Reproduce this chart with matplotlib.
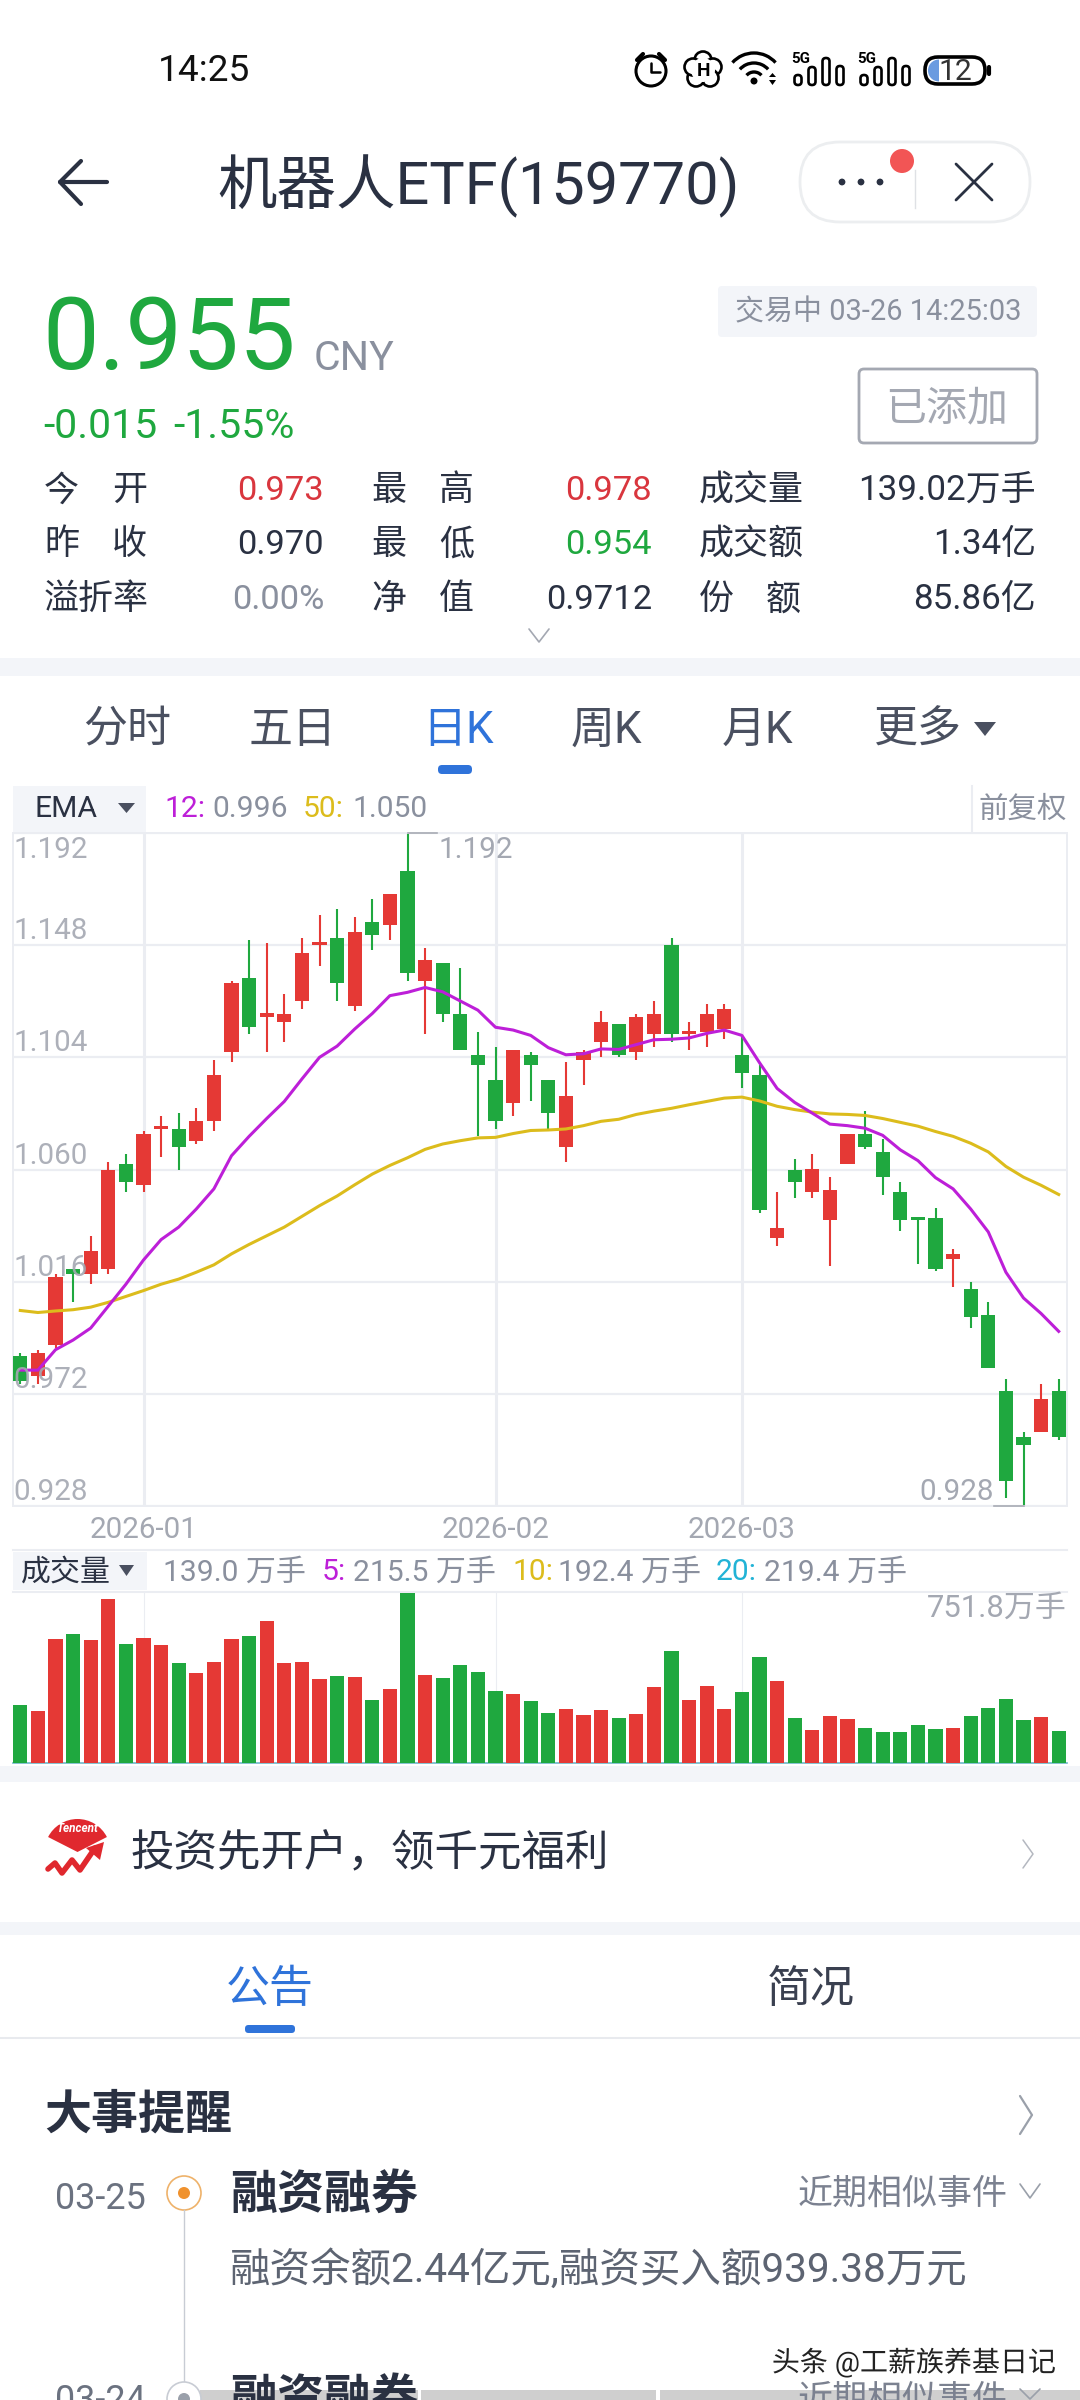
"""Stock app screenshot: robot ETF daily K chart with volume panel."""
import matplotlib
matplotlib.use('Agg')
import matplotlib.pyplot as plt
import matplotlib.patheffects as pe
from matplotlib.patches import Arc, Circle, FancyBboxPatch, Polygon, Rectangle, Wedge

plt.rcParams['font.family'] = ['Roboto', 'Noto Sans CJK SC', 'DejaVu Sans']

# ----------------------------------------------------------------
# DATA
# ----------------------------------------------------------------
opens = [0.987, 0.979, 0.991, 1.021, 1.019, 1.021, 1.062, 1.054, 1.076, 1.076,
         1.071, 1.079, 1.106, 1.135, 1.120, 1.118, 1.126, 1.148, 1.151, 1.124,
         1.157, 1.156, 1.177, 1.134, 1.141, 1.121, 1.105, 1.095, 1.086, 1.105,
         1.095, 1.069, 1.103, 1.110, 1.117, 1.106, 1.113, 1.148, 1.113, 1.114,
         1.115, 1.105, 1.097, 1.033, 1.060, 1.051, 1.040, 1.062, 1.074, 1.067,
         1.051, 1.041, 1.041, 1.025, 1.013, 1.003, 0.973, 0.955, 0.957, 0.973]
highs = [0.988, 0.989, 1.019, 1.021, 1.034, 1.063, 1.066, 1.075, 1.081, 1.082,
         1.084, 1.103, 1.134, 1.150, 1.149, 1.129, 1.151, 1.160, 1.162, 1.159,
         1.166, 1.168, 1.192, 1.147, 1.141, 1.139, 1.114, 1.108, 1.107, 1.106,
         1.095, 1.102, 1.107, 1.122, 1.117, 1.121, 1.126, 1.151, 1.118, 1.125,
         1.125, 1.112, 1.101, 1.051, 1.064, 1.066, 1.057, 1.074, 1.083, 1.072,
         1.055, 1.041, 1.045, 1.029, 1.016, 1.008, 0.978, 0.957, 0.976, 0.978]
lows = [0.976, 0.976, 0.990, 1.008, 1.015, 1.019, 1.051, 1.051, 1.065, 1.060,
        1.070, 1.075, 1.102, 1.113, 1.106, 1.110, 1.123, 1.140, 1.126, 1.122,
        1.146, 1.150, 1.134, 1.113, 1.118, 1.107, 1.073, 1.076, 1.081, 1.087,
        1.076, 1.063, 1.093, 1.104, 1.104, 1.103, 1.108, 1.110, 1.107, 1.108,
        1.111, 1.092, 1.043, 1.030, 1.049, 1.049, 1.022, 1.062, 1.068, 1.050,
        1.036, 1.023, 1.020, 1.014, 0.998, 0.982, 0.931, 0.928, 0.957, 0.954]
closes = [0.977, 0.988, 1.018, 1.019, 1.028, 1.060, 1.055, 1.074, 1.077, 1.069,
          1.079, 1.097, 1.133, 1.116, 1.121, 1.121, 1.145, 1.149, 1.133, 1.153,
          1.152, 1.168, 1.137, 1.142, 1.121, 1.107, 1.101, 1.079, 1.107, 1.101,
          1.082, 1.089, 1.106, 1.118, 1.105, 1.120, 1.121, 1.113, 1.114, 1.121,
          1.123, 1.098, 1.044, 1.037, 1.055, 1.060, 1.052, 1.074, 1.069, 1.057,
          1.040, 1.040, 1.021, 1.027, 1.002, 0.982, 0.938, 0.952, 0.970, 0.955]
ema12 = [0.9813, 0.9813, 0.9893, 0.9931, 0.9978, 1.0064, 1.0150, 1.0245, 1.0325, 1.0374,
         1.0445, 1.0524, 1.0654, 1.0730, 1.0800, 1.0867, 1.0955, 1.1040, 1.1084, 1.1151,
         1.1212, 1.1282, 1.1295, 1.1314, 1.1297, 1.1261, 1.1225, 1.1158, 1.1147, 1.1126,
         1.1078, 1.1050, 1.1054, 1.1073, 1.1071, 1.1090, 1.1109, 1.1111, 1.1116, 1.1134,
         1.1147, 1.1126, 1.1019, 1.0918, 1.0863, 1.0821, 1.0778, 1.0772, 1.0762, 1.0734,
         1.0677, 1.0635, 1.0568, 1.0524, 1.0445, 1.0355, 1.0197, 1.0096, 1.0035, 0.9965]
ema50 = [1.0047, 1.0039, 1.0045, 1.0050, 1.0060, 1.0079, 1.0102, 1.0125, 1.0150, 1.0170,
         1.0197, 1.0226, 1.0269, 1.0306, 1.0340, 1.0374, 1.0416, 1.0458, 1.0496, 1.0540,
         1.0582, 1.0616, 1.0646, 1.0679, 1.0700, 1.0713, 1.0724, 1.0726, 1.0741, 1.0753,
         1.0755, 1.0759, 1.0772, 1.0789, 1.0797, 1.0816, 1.0829, 1.0840, 1.0854, 1.0867,
         1.0880, 1.0884, 1.0869, 1.0848, 1.0835, 1.0825, 1.0818, 1.0816, 1.0812, 1.0800,
         1.0785, 1.0770, 1.0749, 1.0730, 1.0703, 1.0669, 1.0612, 1.0570, 1.0538, 1.0502]
volumes = [257, 231, 548, 570, 543, 724, 526, 552, 521, 441,
           396, 446, 548, 561, 628, 441, 446, 372, 385, 380,
           279, 327, 751.8, 389, 376, 433, 402, 319, 305, 275,
           222, 239, 213, 235, 200, 217, 336, 495, 279, 341,
           239, 314, 468, 363, 200, 147, 209, 195, 156, 138,
           138, 169, 151, 156, 209, 244, 283, 191, 204, 139]
price_ticks = [1.192, 1.148, 1.104, 1.060, 1.016, 0.972, 0.928]
month_idx = [7, 27, 41]
month_labels = ['2026-01', '2026-02', '2026-03']

DARK = '#2a3142'
GRAY = '#8a909e'
LIGHT_GRAY = '#a4a8b2'
RED = '#e53935'
GREEN = '#1fa83f'
BLUE = '#2f73da'
MAGENTA = '#bd1fd8'
YELLOW = '#dcbc1c'
CYAN = '#22b3d6'
GRID = '#ebedf2'
BAND = '#f3f5f9'

W, H = 1080, 2400
fig = plt.figure(figsize=(W / 100, H / 100), dpi=100, facecolor='white')

ui = fig.add_axes([0, 0, 1, 1])
ui.set_xlim(0, W)
ui.set_ylim(H, 0)
ui.axis('off')


def txt(x, y, s, px, color=DARK, ha='left', va='center', **kw):
    # matplotlib centres on the font box, which sits a little above the glyphs
    return ui.text(x, y + px * 0.08, s, fontsize=px * 0.72, color=color, ha=ha, va=va, **kw)


def rect(x0, y0, x1, y1, color, z=0):
    ui.add_patch(Rectangle((x0, y0), x1 - x0, y1 - y0, fc=color, ec='none', zorder=z))


def rrect(x0, y0, x1, y1, rad, fc='none', ec='none', lw=0.0, z=1):
    ui.add_patch(FancyBboxPatch((x0 + rad, y0 + rad), x1 - x0 - 2 * rad, y1 - y0 - 2 * rad,
                                boxstyle=f'round,pad={rad}', fc=fc, ec=ec, lw=lw, zorder=z))


def polyline(xs, ys, color, lw, z=2):
    ui.plot(xs, ys, color=color, lw=lw, solid_capstyle='round', solid_joinstyle='round', zorder=z)


# ----------------------------------------------------------------
# Status bar
# ----------------------------------------------------------------
txt(158, 68, '14:25', 37, color='#111111')
ui.add_patch(Circle((651, 71), 15, fc='none', ec='black', lw=2.2))
polyline([651, 651, 660], [63, 72, 72], 'black', 1.8)
polyline([637, 643], [60, 54], 'black', 3)
polyline([665, 659], [60, 54], 'black', 3)
for dx, dy in [(0, -10), (10, -3), (7, 8), (-7, 8), (-10, -3)]:
    ui.add_patch(Circle((703 + dx, 70 + dy), 8.5, fc='white', ec='black', lw=1.9, zorder=2))
ui.add_patch(Circle((703, 70), 12, fc='white', ec='none', zorder=3))
txt(703, 69, 'H', 19, color='black', ha='center', fontweight='bold', zorder=4)
for r in (10, 19, 29):
    ui.add_patch(Arc((754, 82), 2 * r, 2 * r, theta1=222, theta2=318, ec='black', lw=2.4))
ui.add_patch(Circle((754, 81), 3.5, fc='black', ec='none'))
ui.add_patch(Polygon([(769, 77), (776, 77), (772.5, 73)], fc='black'))
ui.add_patch(Polygon([(769, 80), (776, 80), (772.5, 85)], fc='black'))
for x0 in (798, 864):
    txt(x0 + 3, 58, '5G', 15, color='black', ha='center', fontweight='bold')
    for k, top in enumerate((75, 67, 58, 66)):
        rrect(x0 + 14 * k - 3.5, top, x0 + 14 * k + 3.5, 85, 3.4, ec='black', lw=1.9)
rrect(925, 57, 985, 84, 13, ec='black', lw=2.6)
ui.add_patch(Wedge((939, 70.5), 11, 90, 270, fc='#6a9be0', ec='none'))
polyline([989, 989], [67, 74], 'black', 3)
txt(955, 70, '12', 30, color='#333333', ha='center')

# ----------------------------------------------------------------
# Title row
# ----------------------------------------------------------------
polyline([107, 60], [182, 182], DARK, 3)
polyline([81, 60, 81], [161, 182, 204], DARK, 3)
txt(217, 182, '机器人ETF(159770)', 59.5)
rrect(800, 142, 1030, 222, 40, fc='white', ec='#eceef0', lw=2)
for x in (842, 861, 880):
    ui.add_patch(Circle((x, 182), 3.4, fc=DARK, ec='none', zorder=3))
ui.plot([915, 915], [170, 208], color='#dfe1e5', lw=1, zorder=3)
ui.add_patch(Circle((902, 161), 12, fc='#f25555', ec='none', zorder=4))
polyline([956, 992], [164, 200], DARK, 2)
polyline([956, 992], [200, 164], DARK, 2)

# ----------------------------------------------------------------
# Quote block
# ----------------------------------------------------------------
txt(42, 333, '0.955', 101, color=GREEN)
txt(314, 355, 'CNY', 41, color=GRAY)
rrect(718, 286, 1037, 337, 4, fc=BAND)
txt(735, 310, '交易中 03-26 14:25:03', 29, color=GRAY, zorder=3)
rrect(859, 369, 1037, 443, 5, fc='white', ec=LIGHT_GRAY, lw=2)
txt(947, 406, '已添加', 41, color=LIGHT_GRAY, ha='center', zorder=3)
txt(43, 423, '-0.015', 41, color=GREEN)
txt(173, 423, '-1.55%', 41, color=GREEN)

row_y = [488, 542, 597]
for y, (a, b) in zip(row_y, [('今', '开'), ('昨', '收')]):
    txt(44, y, a, 35)
    txt(147, y, b, 35, ha='right')
txt(44, row_y[2], '溢折率', 35)
for y, s, c in zip(row_y, ['0.973', '0.970', '0.00%'], ['#d9363e', DARK, GRAY]):
    txt(324, y, s, 34.5, color=c, ha='right')
for y, (a, b) in zip(row_y, [('最', '高'), ('最', '低'), ('净', '值')]):
    txt(371, y, a, 35)
    txt(474, y, b, 35, ha='right')
for y, s, c in zip(row_y, ['0.978', '0.954', '0.9712'], ['#d9363e', GREEN, DARK]):
    txt(652, y, s, 34.5, color=c, ha='right')
txt(699, row_y[0], '成交量', 35)
txt(699, row_y[1], '成交额', 35)
txt(699, row_y[2], '份', 35)
txt(801, row_y[2], '额', 35, ha='right')
for y, s in zip(row_y, ['139.02万手', '1.34亿', '85.86亿']):
    txt(1036, y, s, 35, ha='right')
polyline([529, 539, 549], [629, 642, 629], LIGHT_GRAY, 1.2)
rect(0, 658, W, 676, BAND)

# ----------------------------------------------------------------
# Period tabs
# ----------------------------------------------------------------
for x, s, c in [(127, '分时', '#4a5060'), (293, '五日', '#4a5060'), (458, '日K', BLUE),
                (606, '周K', '#4a5060'), (758, '月K', '#4a5060'), (918, '更多', '#4a5060')]:
    txt(x, 727, s, 44, color=c, ha='center')
ui.add_patch(Polygon([(974, 722), (996, 722), (985, 736)], fc='#4a5060', ec='none'))
rrect(438, 765, 472, 774, 4, fc=BLUE)

# ----------------------------------------------------------------
# K chart header
# ----------------------------------------------------------------
rect(13, 786, 146, 832, BAND)
txt(66, 807, 'EMA', 30, ha='center')
ui.add_patch(Polygon([(118, 803), (135, 803), (126.5, 813)], fc='#4a5060', ec='none'))
txt(164, 807, '12:', 30, color=MAGENTA)
txt(212, 807, '0.996', 30, color=GRAY)
txt(303, 807, '50:', 30, color=YELLOW)
txt(352, 807, '1.050', 30, color=GRAY)
txt(1067, 807, '前复权', 29.5, color=GRAY, ha='right')
ui.plot([972, 972], [786, 832], color=GRID, lw=1.5)

# ----------------------------------------------------------------
# K chart
# ----------------------------------------------------------------
X0, X1 = 13, 1067
STEP = 17.6
FIRST = 20.3
xlim = ((X0 - FIRST) / STEP, (X1 - FIRST) / STEP)
idx = list(range(len(closes)))
colors = [RED if c >= o else GREEN for o, c in zip(opens, closes)]

ax = fig.add_axes([X0 / W, 1 - 1506 / H, (X1 - X0) / W, (1506 - 833) / H])
ax.patch.set_alpha(0)
ax.set_xlim(*xlim)
ax.set_ylim(0.928, 1.192)
ax.set_yticks(price_ticks)
ax.set_yticklabels([])
ax.set_xticks(month_idx)
ax.set_xticklabels(month_labels, fontsize=21.3, color=LIGHT_GRAY)
ax.tick_params(length=0, pad=7)
ax.grid(True, axis='y', color=GRID, lw=1.6)
ax.grid(True, axis='x', color=GRID, lw=2.2)
ax.set_axisbelow(True)
for sp in ax.spines.values():
    sp.set_color(GRID)
    sp.set_linewidth(1.4)

ax.vlines(idx, lows, highs, colors=colors, lw=1.5, zorder=2)
ax.bar(idx, [max(abs(c - o), 0.0012) for o, c in zip(opens, closes)], width=0.8,
       bottom=[min(o, c) for o, c in zip(opens, closes)], color=colors, zorder=3)
ax.plot(idx, ema50, color=YELLOW, lw=2.2, zorder=4)
ax.plot(idx, ema12, color=MAGENTA, lw=2.2, zorder=5)

for p in price_ticks:
    # top label hangs below the frame, the others sit on their grid line
    off, va = (-2, 'top') if p == price_ticks[0] else (0, 'bottom')
    ax.annotate(f'{p:.3f}', xy=(0, p), xycoords=('axes fraction', 'data'), xytext=(0, off),
                textcoords='offset points', fontsize=21.3, color=LIGHT_GRAY, alpha=0.9,
                va=va, ha='left', zorder=6)

# high / low markers
hi = highs.index(max(highs))
lo = lows.index(min(lows))
ax.annotate(f'{highs[hi]:.3f}', xy=(hi, highs[hi]), xytext=(22, -2), textcoords='offset points',
            fontsize=21.3, color=LIGHT_GRAY, va='top', ha='left', zorder=6)
ax.plot([hi, hi + 1.7], [highs[hi], highs[hi]], color='#a8acb4', lw=1.2, zorder=6, clip_on=False)
ax.annotate(f'{lows[lo]:.3f}', xy=(lo, lows[lo]), xytext=(-21, 0), textcoords='offset points',
            fontsize=21.3, color=LIGHT_GRAY, va='bottom', ha='right', zorder=6)
ax.plot([lo - 1.7, lo], [lows[lo], lows[lo]], color='#a8acb4', lw=1.2, zorder=6, clip_on=False)

# ----------------------------------------------------------------
# Volume panel
# ----------------------------------------------------------------
ui.plot([13, 1067], [1550, 1550], color=GRID, lw=1.5)
ui.plot([13, 1067], [1592, 1592], color=GRID, lw=1.5)
rect(13, 1552, 147, 1590, BAND)
txt(21, 1570, '成交量', 30)
ui.add_patch(Polygon([(119, 1565), (134, 1565), (126.5, 1576)], fc='#4a5060', ec='none'))
txt(163, 1570, '139.0 万手', 30, color=GRAY)
txt(322, 1570, '5:', 30, color=MAGENTA)
txt(353, 1570, '215.5 万手', 30, color=GRAY)
txt(512, 1570, '10:', 30, color=YELLOW)
txt(558, 1570, '192.4 万手', 30, color=GRAY)
txt(716, 1570, '20:', 30, color=CYAN)
txt(764, 1570, '219.4 万手', 30, color=GRAY)

vax = fig.add_axes([X0 / W, 1 - 1763 / H, (X1 - X0) / W, (1763 - 1592.5) / H])
vax.patch.set_alpha(0)
vax.set_xlim(*xlim)
vax.set_ylim(0, max(volumes))
vax.set_xticks(month_idx)
vax.set_xticklabels([])
vax.set_yticks([])
vax.tick_params(length=0)
vax.grid(True, axis='x', color=GRID, lw=0.8)
vax.set_axisbelow(True)
vax.bar(idx, volumes, width=0.8, color=colors, zorder=3)
for name, sp in vax.spines.items():
    sp.set_visible(name == 'bottom')
vax.spines['bottom'].set_color('#6fb7c9')
vax.spines['bottom'].set_linewidth(1.2)
txt(1067, 1606, '751.8万手', 31, color=LIGHT_GRAY, ha='right', zorder=5)

# ----------------------------------------------------------------
# Promo row
# ----------------------------------------------------------------
rect(0, 1766, W, 1782, BAND)
ui.add_patch(Wedge((77.5, 1852), 33, 207, 333, fc='#e0282e', ec='none'))
ui.text(77.5, 1829, 'Tencent', fontsize=8.5, color='white', ha='center', va='center',
        style='italic', fontweight='bold', zorder=3)
polyline([48, 55, 62, 72, 80, 95], [1869, 1863, 1873, 1860, 1870, 1848], '#e0282e', 4)
ui.add_patch(Polygon([(104, 1842), (86, 1848), (100, 1860)], fc='#e0282e', ec='none', zorder=3))
txt(131, 1851, '投资先开户，领千元福利', 43.5)
polyline([1023, 1033, 1023], [1840, 1854, 1868], '#b4b8c0', 1.1)
rect(0, 1922, W, 1935, BAND)

# ----------------------------------------------------------------
# Announcement section
# ----------------------------------------------------------------
txt(270, 1986, '公告', 44, color=BLUE, ha='center')
txt(811, 1986, '简况', 44, color='#3a4050', ha='center')
rrect(245, 2025, 295, 2033, 3.5, fc=BLUE)
ui.plot([0, W], [2038, 2038], color='#e8eaee', lw=1.5)
txt(44, 2112, '大事提醒', 47, fontweight='bold')
polyline([1020, 1032, 1020], [2096, 2115, 2134], '#9aa0aa', 1.6)

ui.plot([184, 184], [2210, 2385], color='#c8ccd4', lw=1)
ui.add_patch(Circle((184, 2193), 17, fc='white', ec='#eeb26a', lw=1.2))
ui.add_patch(Circle((184, 2193), 6, fc='#f0922e', ec='none', zorder=3))
txt(55, 2196, '03-25', 36, color='#6b7280')
txt(230, 2192, '融资融券', 47, fontweight='bold')
txt(1008, 2191, '近期相似事件', 35, color='#7b8190', ha='right')
polyline([1020, 1030, 1040], [2184, 2198, 2184], '#9aa0aa', 1.2)
txt(230, 2266, '融资余额2.44亿元,融资买入额939.38万元', 40.5, color='#5d6472')

# next event, cut by the screen edge
for x0, x1 in [(200, 418), (421, 656), (660, W)]:
    rect(x0, 2390, x1, 2400, '#cfcfcf', z=1)
ui.add_patch(Circle((184, 2399), 17, fc='white', ec='#c8ccd4', lw=1.2, zorder=2))
ui.add_patch(Circle((184, 2399), 6, fc='#9aa0aa', ec='none', zorder=3))
txt(55, 2398, '03-24', 36, color='#6b7280', zorder=3)
txt(230, 2396, '融资融券', 47, fontweight='bold', zorder=3)
txt(1008, 2397, '近期相似事件', 35, color='#7b8190', ha='right', zorder=3)
polyline([1020, 1030, 1040], [2389, 2399, 2389], '#9aa0aa', 1.2, z=3)

# watermark
wm = txt(1056, 2360, '头条 @工薪族养基日记', 28, color='#222222', ha='right', zorder=6)
wm.set_path_effects([pe.withStroke(linewidth=2.5, foreground='white')])

fig.savefig('out.png', dpi=100)
